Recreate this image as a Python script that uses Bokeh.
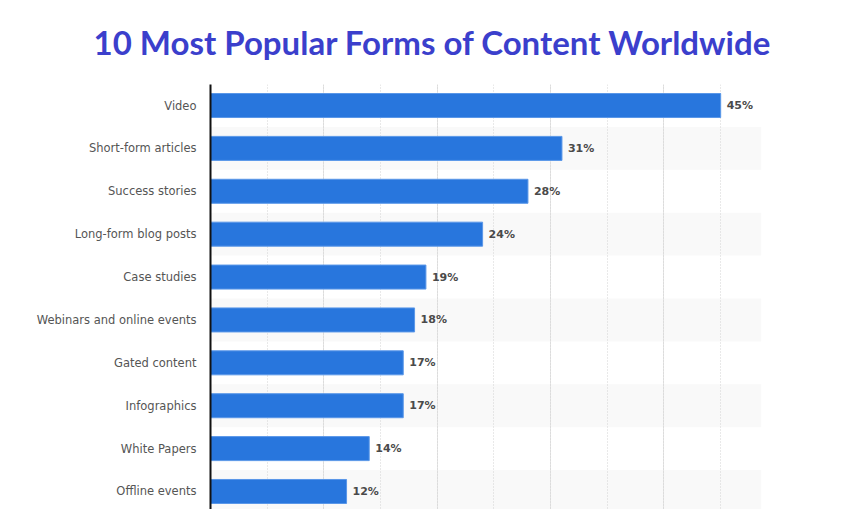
from bokeh.plotting import figure
from bokeh.models import Range1d, FixedTicker, Grid, ColumnDataSource
from bokeh.core.properties import value
from bokeh.embed import file_html
from bokeh.resources import INLINE

categories = ["Video", "Short-form articles", "Success stories", "Long-form blog posts",
              "Case studies", "Webinars and online events", "Gated content",
              "Infographics", "White Papers", "Offline events"]
shares = [45, 31, 28, 24, 19, 18, 17, 17, 14, 12]
x_ticks = [0, 5, 10, 15, 20, 25, 30, 35, 40, 45]
title_text = "10 Most Popular Forms of Content Worldwide"

XMAX = 48.6
idx = list(range(len(categories)))

p = figure(width=857, height=509, output_backend="svg", toolbar_location=None,
           x_range=Range1d(0, XMAX), y_range=Range1d(9.42, -0.49),
           x_axis_location=None, min_border_left=210, min_border_right=96,
           min_border_bottom=0, min_border_top=84)
p.outline_line_color = None
p.background_fill_color = "white"
p.border_fill_color = "white"

p.title.text = title_text
p.title.align = "left"
p.title.vertical_align = "top"
p.title.text_font = "Lato"
p.title.text_font_style = "bold"
p.title.text_font_size = "33px"
p.title.text_color = "#3b3fcc"
p.title.standoff = 42
p.title.offset = -117

band_idx = [i for i in idx if i % 2 == 1]
bands = p.hbar(y=band_idx, left=0, right=XMAX, height=1.0, fill_color="#f9f9f9", line_color=None)
bands.level = "image"

p.ygrid.visible = False
grid = Grid(dimension=0, ticker=FixedTicker(ticks=x_ticks[1:]), grid_line_color="#d3d3d3",
            grid_line_dash="1 2", grid_line_width=1)
p.add_layout(grid)

src = ColumnDataSource(dict(y=idx, v=shares, lab=[f"{s}%" for s in shares]))
p.hbar(y="y", left=0, right="v", height=0.56, source=src, fill_color="#2876dd",
       line_color="#5a97e8", line_width=1)
p.text(x="v", y="y", text="lab", source=src, x_offset=6, text_baseline="middle",
       text_align="left", text_font=value("DejaVu Sans"), text_font_size="11px",
       text_font_style="bold", text_color="#4a4a4a")

ax = p.yaxis[0]
ax.ticker = FixedTicker(ticks=idx)
ax.major_label_overrides = {i: c for i, c in zip(idx, categories)}
ax.major_tick_line_color = None
ax.minor_tick_line_color = None
ax.major_label_standoff = 8
ax.major_label_text_font = "DejaVu Sans"
ax.major_label_text_font_size = "11.5px"
ax.major_label_text_color = "#555555"
ax.axis_line_color = "#111111"
ax.axis_line_width = 2

open("out.html", "w").write(file_html(p, INLINE))
